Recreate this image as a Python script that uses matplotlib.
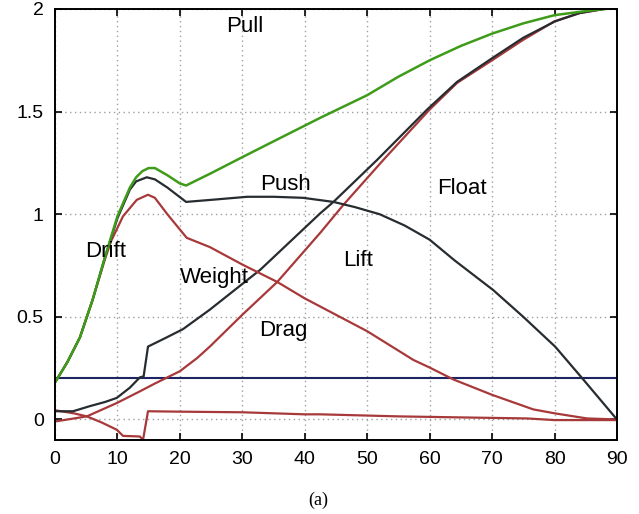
import numpy as np
from matplotlib import pyplot as plt

# Pull (green)
pull_x = [0, 2, 4, 6, 8, 10, 12, 13, 14, 15, 16, 18, 20, 21, 25, 30, 35, 42.5, 50, 55, 60, 65, 70, 75, 80, 85, 88]
pull_y = [0.18, 0.28, 0.40, 0.58, 0.79, 0.99, 1.13, 1.18, 1.21, 1.225, 1.225, 1.19, 1.15, 1.14, 1.20, 1.278, 1.355, 1.47, 1.58, 1.67, 1.75, 1.82, 1.88, 1.93, 1.97, 1.99, 2.0]

# Push (black, hump then down to zero)
push_x = [0, 2, 4, 6, 8, 10, 12, 13, 14.7, 16, 18, 21, 25, 30.8, 35, 39.7, 44.6, 48, 52, 56, 60, 64, 70.2, 75, 80.1, 84.6, 90]
push_y = [0.18, 0.28, 0.40, 0.58, 0.79, 0.98, 1.12, 1.16, 1.18, 1.17, 1.13, 1.06, 1.07, 1.085, 1.085, 1.08, 1.06, 1.035, 1.0, 0.945, 0.876, 0.775, 0.63, 0.50, 0.355, 0.195, 0.0]

# Weight / Lift (black, rising to 2)
rise_x = [0, 2.9, 5.6, 8, 9.9, 12, 13.6, 14.2, 14.9, 17.9, 20.5, 24.8, 32.9, 42.5, 44.6, 51.6, 59.6, 64.4, 70, 75, 80.1, 84, 87.8]
rise_y = [0.04, 0.04, 0.065, 0.085, 0.105, 0.155, 0.205, 0.21, 0.355, 0.40, 0.44, 0.535, 0.73, 1.005, 1.06, 1.265, 1.51, 1.645, 1.76, 1.86, 1.94, 1.98, 2.0]

# Drift / Drag (red, hump then down to zero)
drag_x = [0, 2, 4, 6, 8, 9, 10.9, 13.1, 14.9, 16, 18, 21.1, 24.8, 30, 35.6, 40, 42.5, 50, 57.4, 60, 63.8, 70, 76.6, 80, 85.2, 90]
drag_y = [0.18, 0.28, 0.40, 0.58, 0.78, 0.87, 0.99, 1.07, 1.095, 1.08, 1.0, 0.885, 0.84, 0.755, 0.67, 0.59, 0.55, 0.43, 0.29, 0.253, 0.195, 0.12, 0.049, 0.03, 0.005, 0.0]

# Float (red, rising to 2)
float_x = [0, 5.1, 9.9, 13.6, 16, 20, 22.8, 24.8, 30, 35.6, 42.5, 46.2, 52.6, 60, 64.4, 70, 75, 80, 84, 88]
float_y = [-0.01, 0.015, 0.08, 0.137, 0.175, 0.235, 0.30, 0.355, 0.51, 0.67, 0.91, 1.046, 1.265, 1.51, 1.64, 1.75, 1.85, 1.94, 1.98, 2.0]

# lower red (dips below zero, jumps back)
low_x = [0, 3, 5.1, 7.5, 9.9, 10.9, 13.6, 14.1, 14.9, 20, 30, 40, 42.5, 55, 65, 75.6, 80, 90]
low_y = [0.045, 0.03, 0.015, -0.015, -0.05, -0.08, -0.083, -0.1, 0.04, 0.038, 0.035, 0.025, 0.025, 0.015, 0.01, 0.005, -0.003, -0.003]

ref_level = 0.2

labels = ["Pull", "Push", "Float", "Drift", "Weight", "Lift", "Drag"]
label_x = [30.4, 36.9, 65.1, 8.1, 25.6, 48.6, 36.5]
label_y = [1.888, 1.116, 1.10, 0.793, 0.667, 0.749, 0.409]

green = "#3f9c1b"
black = "#262c30"
red = "#a8393a"
navy = "#1d2463"

fig = plt.figure(figsize=(6.39, 5.14), dpi=100)
ax = fig.add_axes([0.086, 0.144, 0.8795, 0.8385])

ax.plot(low_x, low_y, color=red, lw=1.6)
ax.axhline(ref_level, color=navy, lw=1.5)
ax.plot(float_x, float_y, color=red, lw=1.6)
ax.plot(rise_x, rise_y, color=black, lw=1.6)
ax.plot(drag_x, drag_y, color=red, lw=1.6)
ax.plot(push_x, push_y, color=black, lw=1.6)
ax.plot(pull_x, pull_y, color=green, lw=1.8)

for t, x, y in zip(labels, label_x, label_y):
    ax.text(x, y, t, ha="center", va="baseline", fontsize=16, family="Liberation Sans")

ax.set_xlim(0, 90)
ax.set_ylim(-0.1, 2)
ax.set_xticks(np.arange(0, 91, 10))
ax.set_yticks([0, 0.5, 1, 1.5, 2])
ax.set_yticklabels(["0", "0.5", "1", "1.5", "2"])
ax.grid(True, linestyle=(0, (1, 2.5)), color="#a0a0a0", lw=1.0)
ax.tick_params(direction="in", top=True, right=True, length=5, width=1.2,
               labelsize=14, pad=8)
for lab in ax.get_xticklabels() + ax.get_yticklabels():
    lab.set_family("Liberation Sans")
for s in ax.spines.values():
    s.set_linewidth(1.4)

fig.text(0.498, 0.027, "(a)", ha="center", va="center", fontsize=13, family="Liberation Serif")

fig.savefig("out.png", dpi=100)
